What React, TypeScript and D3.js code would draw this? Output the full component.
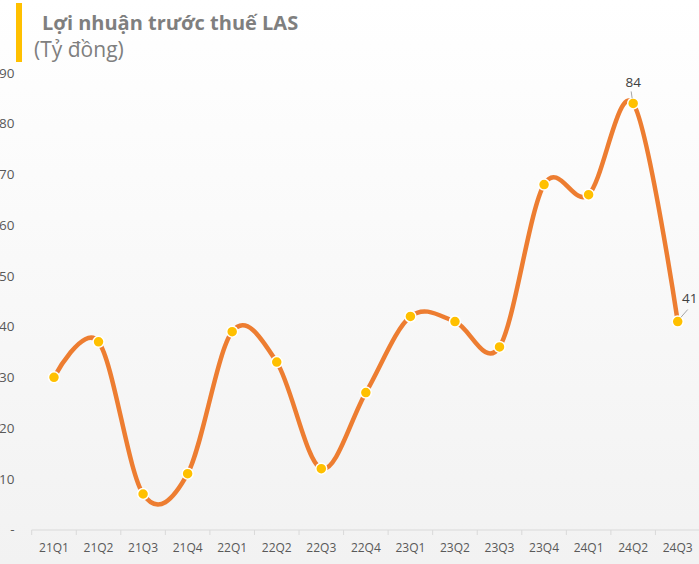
import React, { useEffect, useRef } from "react";
import * as d3 from "d3";

const categories = ["21Q1","21Q2","21Q3","21Q4","22Q1","22Q2","22Q3","22Q4","23Q1","23Q2","23Q3","23Q4","24Q1","24Q2","24Q3"];
const values = [30, 37, 7, 11, 39, 33, 12, 27, 42, 41, 36, 68, 66, 84, 41];
const yTicks = [0, 10, 20, 30, 40, 50, 60, 70, 80, 90];
const labeled = ["24Q2", "24Q3"];

const W = 699, H = 564;

export default function App() {
  const ref = useRef<SVGSVGElement>(null);
  useEffect(() => {
    const svg = d3.select(ref.current);
    svg.selectAll("*").remove();
    const defs = svg.append("defs");
    const g = defs.append("linearGradient").attr("id", "bg").attr("x1", 0).attr("y1", 0).attr("x2", 0).attr("y2", 1);
    g.append("stop").attr("offset", "0%").attr("stop-color", "#ffffff");
    g.append("stop").attr("offset", "100%").attr("stop-color", "#f2f2f2");
    svg.append("rect").attr("width", W).attr("height", H).attr("fill", "url(#bg)");

    const x = d3.scaleBand<string>().domain(categories).range([31.7, 700]);
    const y = d3.scaleLinear().domain([0, 90]).range([529.5, 73]);
    const cx = (c: string) => (x(c) as number) + x.bandwidth() / 2;

    // title
    svg.append("rect").attr("x", 16).attr("y", 3).attr("width", 6).attr("height", 59).attr("fill", "#FFC000");
    svg.append("text").attr("x", 42).attr("y", 30).attr("font-family", "Open Sans").attr("font-weight", "bold")
      .attr("font-size", 20).attr("fill", "#7f7f7f").text("Lợi nhuận trước thuế LAS");
    svg.append("text").attr("x", 34).attr("y", 57).attr("font-family", "Open Sans")
      .attr("font-size", 21).attr("fill", "#7f7f7f").text("(Tỷ đồng)");

    // y labels
    svg.append("g").selectAll("text").data(yTicks).join("text")
      .attr("x", 14.5).attr("y", d => y(d)).attr("dy", "0.35em").attr("text-anchor", "end")
      .attr("font-family", "Open Sans").attr("font-size", 13.5).attr("fill", "#595959")
      .text(d => (d === 0 ? "-" : String(d)));

    // x axis
    const ax = svg.append("g");
    ax.append("line").attr("x1", 31.7).attr("x2", 700).attr("y1", 530).attr("y2", 530).attr("stroke", "#d9d9d9");
    const edges = categories.map(c => x(c) as number).concat([700]);
    ax.selectAll("line.t").data(edges).join("line").attr("class", "t")
      .attr("x1", d => d).attr("x2", d => d).attr("y1", 530).attr("y2", 535).attr("stroke", "#d9d9d9");
    ax.selectAll("text").data(categories).join("text")
      .attr("x", d => cx(d)).attr("y", 548).attr("dy", "0.35em").attr("text-anchor", "middle")
      .attr("font-family", "Open Sans").attr("font-size", 12).attr("fill", "#595959").text(d => d);

    const pts = categories.map((c, i) => [cx(c), y(values[i])] as [number, number]);
    const line = d3.line().curve(d3.curveCardinal.tension(0));
    svg.append("path").attr("d", line(pts)).attr("fill", "none").attr("stroke", "#ED7D31")
      .attr("stroke-width", 4.5).attr("stroke-linecap", "round");

    svg.append("g").selectAll("circle").data(pts).join("circle")
      .attr("cx", d => d[0]).attr("cy", d => d[1]).attr("r", 5.5)
      .attr("fill", "#FFC000").attr("stroke", "#ffffff").attr("stroke-width", 1.5);

    // data labels with leader lines
    categories.forEach((c, i) => {
      if (!labeled.includes(c)) return;
      const [px, py] = pts[i];
      if (c === "24Q2") {
        svg.append("line").attr("x1", px - 1).attr("y1", py - 5).attr("x2", px - 2).attr("y2", py - 12).attr("stroke", "#a6a6a6");
        svg.append("text").attr("x", px).attr("y", py - 21).attr("dy", "0.35em").attr("text-anchor", "middle")
          .attr("font-family", "Open Sans").attr("font-size", 13.5).attr("fill", "#404040").text(values[i]);
      } else {
        svg.append("line").attr("x1", px + 3).attr("y1", py - 4).attr("x2", px + 10).attr("y2", py - 12).attr("stroke", "#a6a6a6");
        svg.append("text").attr("x", px + 12).attr("y", py - 23).attr("dy", "0.35em").attr("text-anchor", "middle")
          .attr("font-family", "Open Sans").attr("font-size", 13.5).attr("fill", "#404040").text(values[i]);
      }
    });
  }, []);
  return <svg ref={ref} width={W} height={H} style={{ position: "absolute", left: 0, top: 0 }} />;
}
